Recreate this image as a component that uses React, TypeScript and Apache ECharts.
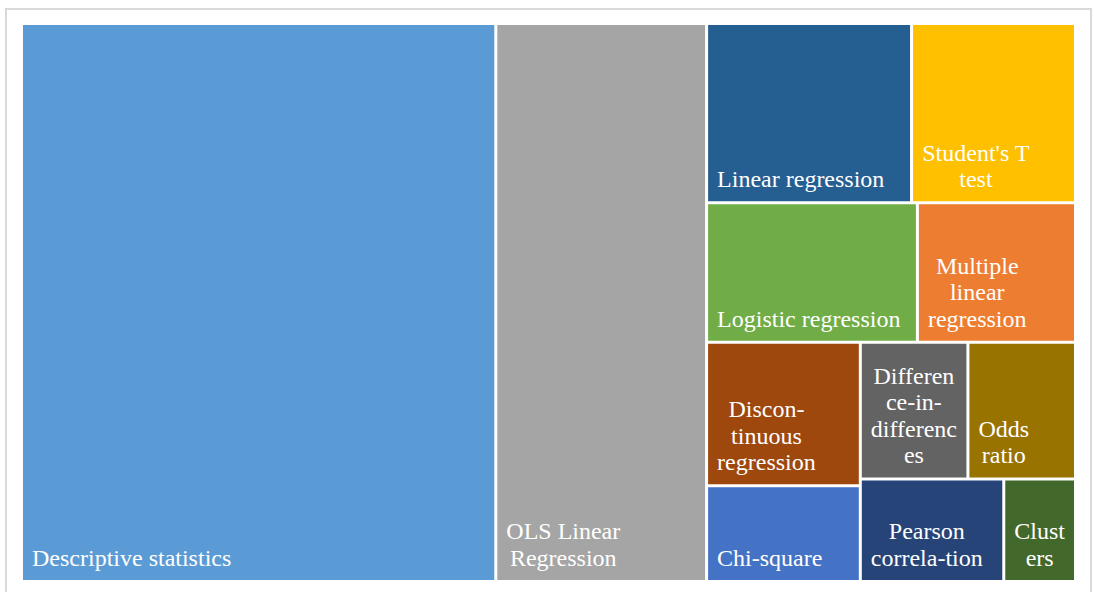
import React, { useEffect, useRef } from 'react';
import * as echarts from 'echarts';

// ---- data ----
const categories = [
  'Descriptive statistics',
  'OLS Linear Regression',
  'Linear regression',
  "Student's T test",
  'Logistic regression',
  'Multiple linear regression',
  'Discon-tinuous regression',
  'Chi-square',
  'Difference-in-differences',
  'Odds ratio',
  'Pearson correla-tion',
  'Clusters',
];
const values = [36, 16, 5, 4, 4, 3, 3, 2, 2, 2, 2, 1];
const colors = [
  '#5B9BD5', '#A5A5A5', '#255E91', '#FFC000', '#70AD47', '#ED7D31',
  '#9E480E', '#4472C4', '#636363', '#997300', '#264478', '#43682B',
];
const labelLines = [
  ['Descriptive statistics'],
  ['OLS Linear', 'Regression'],
  ['Linear regression'],
  ["Student's T", 'test'],
  ['Logistic regression'],
  ['Multiple', 'linear', 'regression'],
  ['Discon-', 'tinuous', 'regression'],
  ['Chi-square'],
  ['Differen', 'ce-in-', 'differenc', 'es'],
  ['Odds', 'ratio'],
  ['Pearson', 'correla-tion'],
  ['Clusters'.slice(0, 5), 'Clusters'.slice(5)],
];
// first items stand alone, the remaining ones share the right-hand block
const standAloneCount = 2;

const FONT_FAMILY = 'Liberation Serif';
const FONT_SIZE = 24;
const PAD = 9;

export default function App() {
  const ref = useRef<HTMLDivElement>(null);

  useEffect(() => {
    if (!ref.current) return;
    const chart = echarts.init(ref.current, null, { renderer: 'svg' });

    const ctx = document.createElement('canvas').getContext('2d')!;
    ctx.font = `${FONT_SIZE}px ${FONT_FAMILY}`;
    const blockWidth = (lines: string[]) =>
      Math.max(...lines.map((l) => ctx.measureText(l).width));

    const leaves = categories.map((name, i) => {
      const lines = labelLines[i];
      const b = blockWidth(lines);
      return {
        name,
        value: values[i],
        itemStyle: { color: colors[i] },
        label: {
          formatter: lines.join('\n'),
          position: [PAD + b / 2, '100%'],
          offset: [0, -9],
          align: 'center',
          verticalAlign: 'bottom',
        },
      };
    });
    const rest = leaves.slice(standAloneCount);
    const data = [
      ...leaves.slice(0, standAloneCount),
      {
        name: '',
        value: rest.reduce((s, d) => s + d.value, 0),
        children: rest,
      },
    ];

    chart.setOption({
      animation: false,
      backgroundColor: '#fff',
      graphic: [
        {
          type: 'rect',
          shape: { x: 6, y: 9, width: 1085, height: 600 },
          style: { fill: 'none', stroke: '#D9D9D9', lineWidth: 2 },
          silent: true,
        },
      ],
      series: [
        {
          type: 'treemap',
          left: 23,
          top: 25,
          width: 1051,
          height: 555,
          sort: false,
          squareRatio: 1,
          roam: false,
          nodeClick: false,
          silent: true,
          breadcrumb: { show: false },
          itemStyle: { borderWidth: 0, gapWidth: 3, borderColor: '#fff' },
          label: {
            show: true,
            color: '#fff',
            fontFamily: FONT_FAMILY,
            fontSize: FONT_SIZE,
            lineHeight: 26.5,
            padding: 0,
            overflow: 'none',
          },
          upperLabel: { show: false },
          data,
        },
      ],
    });

    return () => chart.dispose();
  }, []);

  return (
    <div
      ref={ref}
      style={{ position: 'fixed', left: 0, top: 0, width: 1094, height: 592 }}
    />
  );
}
